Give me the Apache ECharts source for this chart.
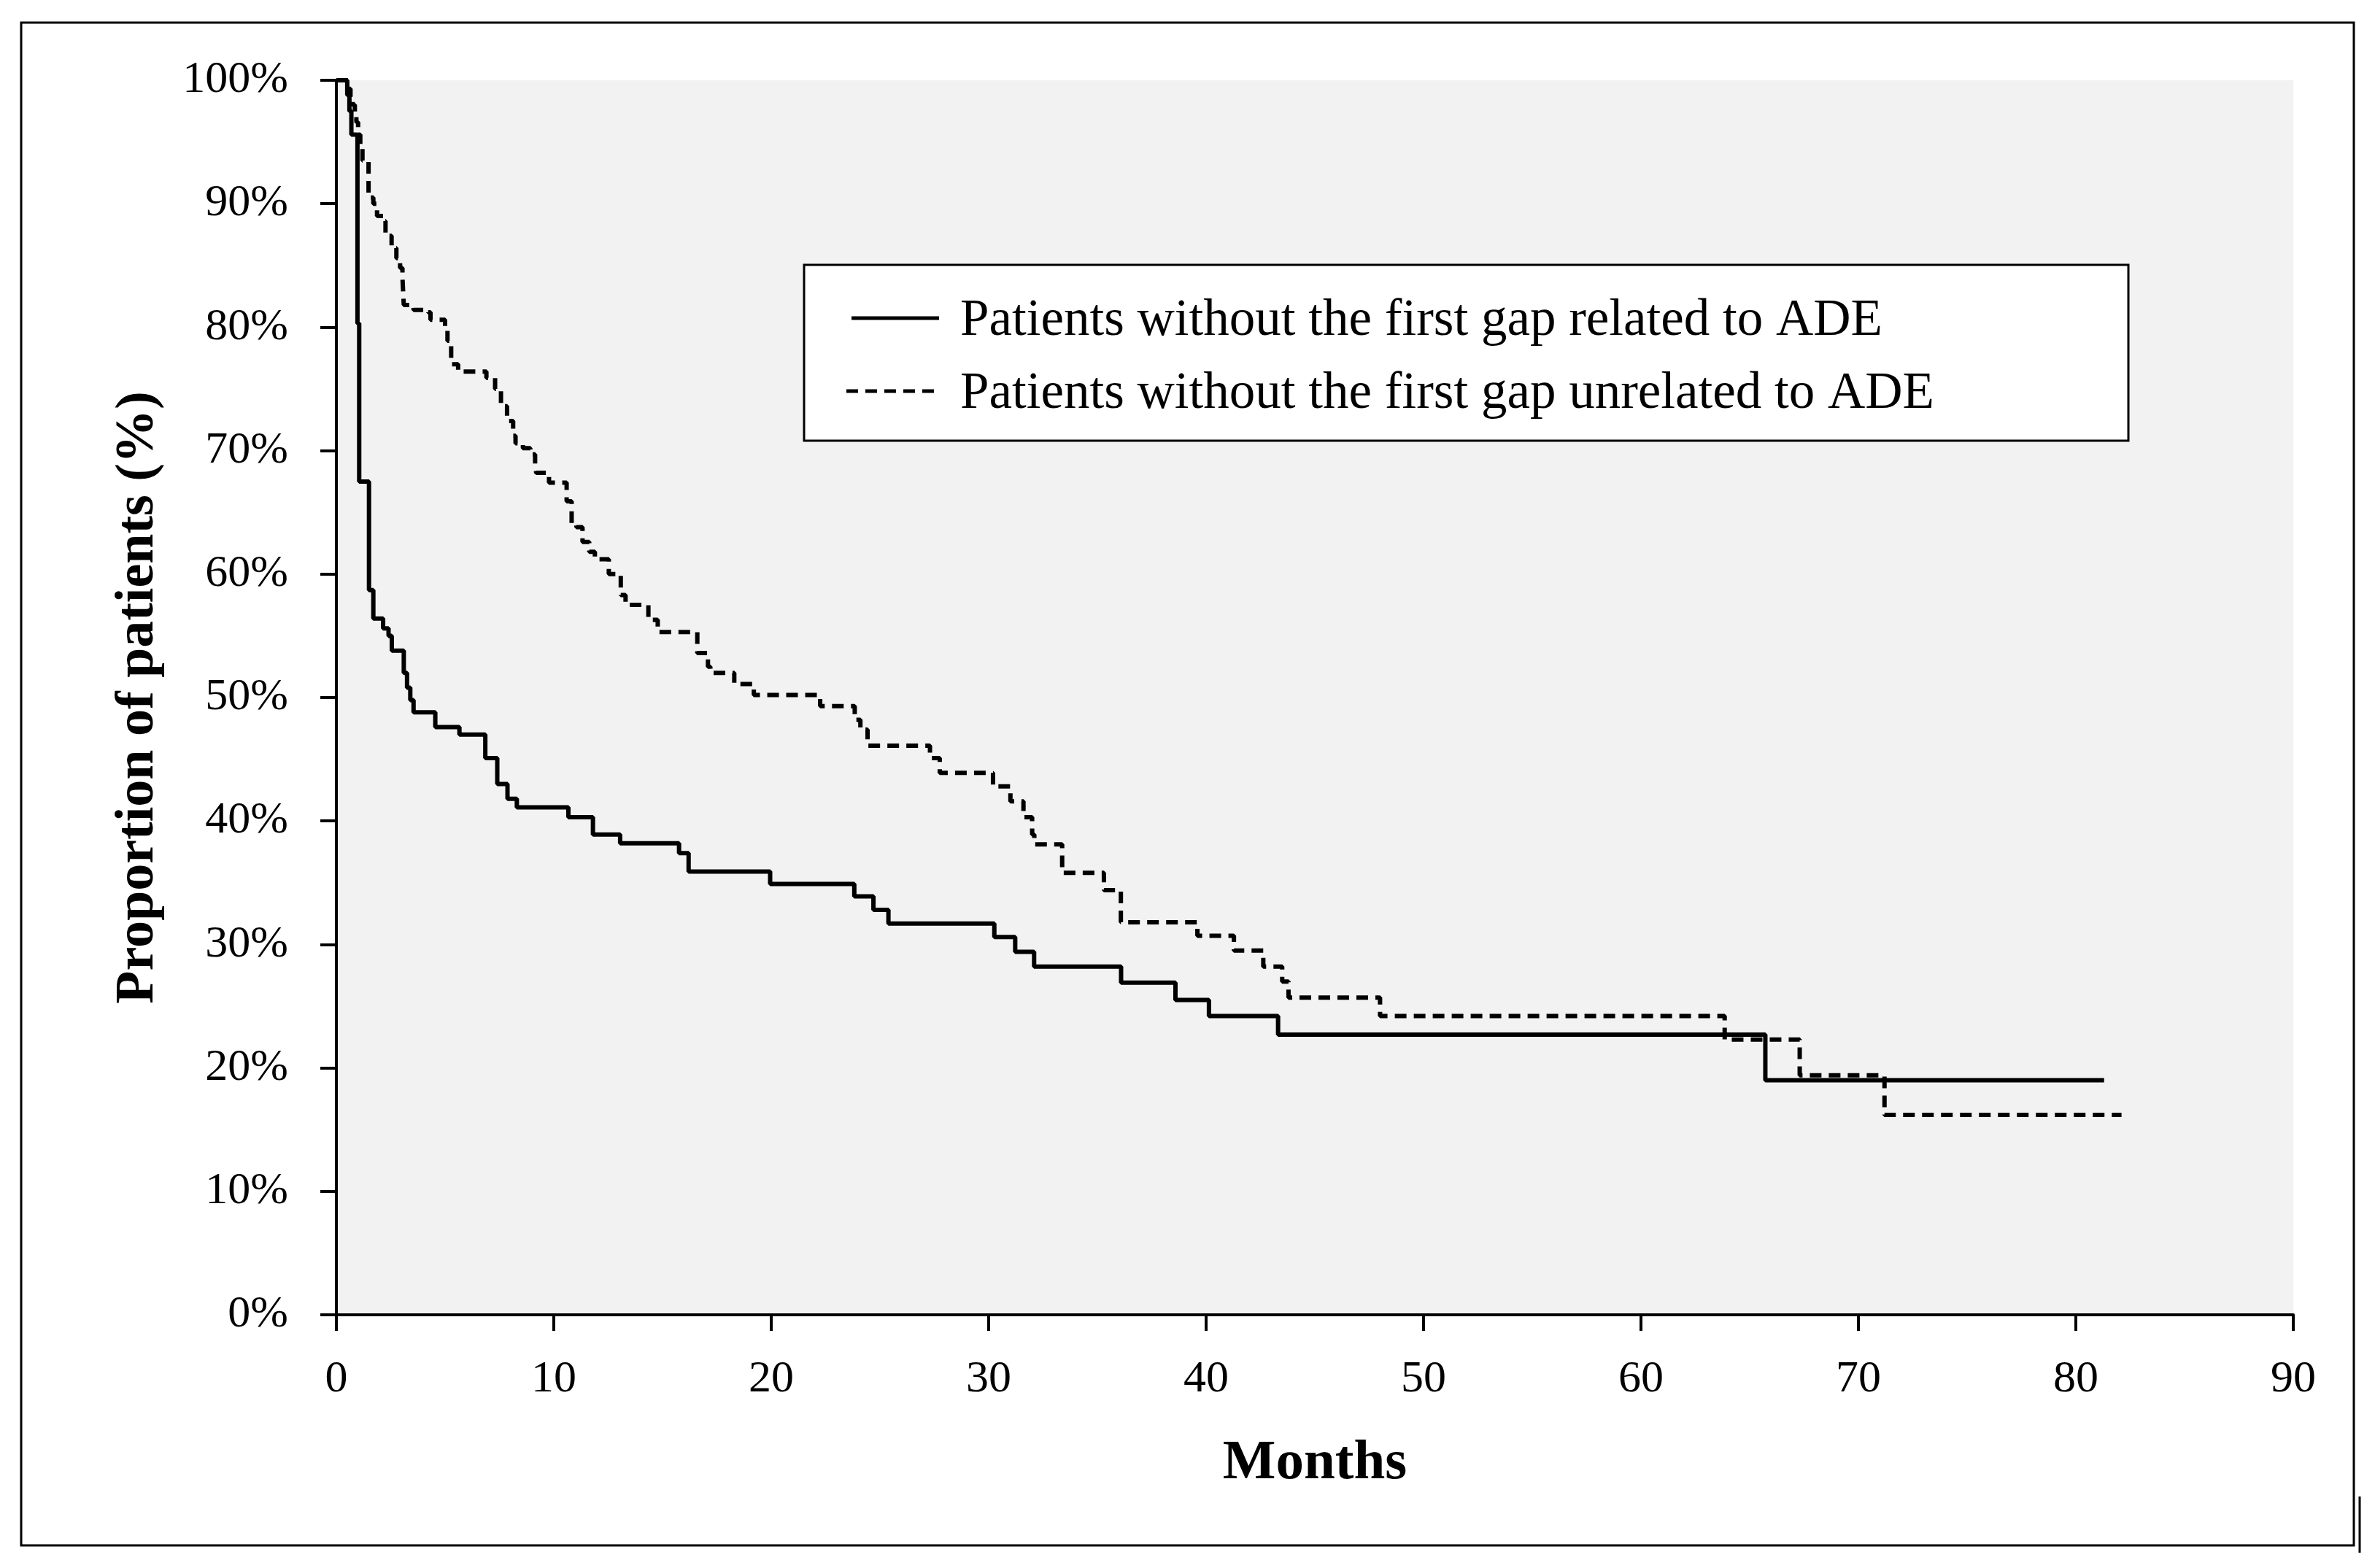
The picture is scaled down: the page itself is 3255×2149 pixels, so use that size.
<!DOCTYPE html>
<html>
<head>
<meta charset="utf-8">
<script src="https://cdn.jsdelivr.net/npm/echarts@6/dist/echarts.min.js"></script>
<style>
html,body{margin:0;padding:0;background:#fff;}
#chart{width:3255px;height:2149px;}
</style>
</head>
<body>
<div id="chart"></div>
<script>
// Series names
const seriesNames = [
  'Patients without the first gap related to ADE',
  'Patients without the first gap unrelated to ADE'
];
// Kaplan-Meier steps: [month, proportion % after the drop at that month]
const relatedSteps = [
  [0,100],[0.5,98.8],[0.6,97.5],[0.69,95.6],[0.97,80.3],[1.05,67.5],[1.5,58.7],
  [1.7,56.4],[2.15,55.6],[2.4,55.0],[2.55,53.8],[3.1,52.0],[3.25,50.8],[3.4,49.8],
  [3.55,48.8],[4.55,47.6],[5.66,47.0],[6.85,45.1],[7.4,43.0],[7.87,41.8],[8.3,41.1],
  [10.67,40.3],[11.8,38.9],[13.05,38.2],[15.76,37.4],[16.2,35.9],[19.95,34.9],
  [23.82,33.9],[24.7,32.8],[25.39,31.7],[30.26,30.6],[31.22,29.4],[32.09,28.2],
  [36.09,26.9],[38.59,25.5],[40.13,24.2],[43.31,22.7],[65.72,19.0],[81.3,19.0]
];
const unrelatedSteps = [
  [0,100],[0.55,99.3],[0.65,98.6],[0.75,98.0],[0.85,97.2],[0.92,96.6],[1.0,95.6],
  [1.1,94.5],[1.2,93.5],[1.48,90.5],[1.7,90.0],[1.87,89.0],[2.15,88.6],[2.26,87.4],
  [2.54,86.4],[2.76,85.6],[2.93,84.8],[3.04,84.0],[3.1,81.8],[3.55,81.4],[4.22,81.2],
  [4.33,80.6],[5.0,80.0],[5.11,78.9],[5.28,77.0],[5.6,76.4],[6.9,75.9],[7.3,75.0],
  [7.57,73.6],[7.85,72.4],[8.13,71.2],[8.24,70.6],[8.58,70.2],[8.92,69.7],[9.14,68.9],
  [9.19,68.2],[9.78,67.4],[10.59,65.9],[10.82,64.1],[11.04,63.8],[11.32,62.6],
  [11.63,61.8],[11.89,61.2],[12.53,60.0],[13.08,58.3],[13.3,57.5],[14.35,56.3],
  [14.78,55.3],[16.6,53.6],[17.09,52.5],[17.2,52.0],[18.3,51.1],[19.2,50.2],
  [22.25,49.3],[23.84,48.2],[24.1,47.4],[24.43,46.1],[27.3,45.1],[27.75,43.9],
  [30.2,42.8],[31.0,41.6],[31.6,40.3],[32.0,38.9],[32.1,38.1],[33.38,35.8],
  [35.3,34.4],[36.08,31.8],[39.6,30.7],[41.28,29.5],[42.63,28.2],[43.5,27.0],
  [43.79,25.7],[48.0,24.2],[63.85,22.3],[67.3,19.4],[71.2,16.2],[82.1,16.2]
];
const xTicks = {min:0, max:90, interval:10};
const yTicks = {min:0, max:100, interval:10};

const FONT = 'Liberation Serif';
const DASH = [16,10];
const chart = echarts.init(document.getElementById('chart'), null, {renderer:'canvas'});
chart.setOption({
  animation:false,
  backgroundColor:'#ffffff',
  grid:{left:461, top:110, right:112, bottom:347, show:true, backgroundColor:'#f2f2f2', borderWidth:0},
  graphic:[
    {type:'rect', z:0, shape:{x:29, y:31, width:3197, height:2087},
     style:{fill:'none', stroke:'#000', lineWidth:3}},
    {type:'line', z:0, shape:{x1:3234, y1:2051, x2:3234, y2:2128},
     style:{stroke:'#000', lineWidth:3}},
    {type:'group', z:10, children:[
      {type:'rect', z:10, shape:{x:1102, y:363, width:1815, height:241},
       style:{fill:'#ffffff', stroke:'#000', lineWidth:3}},
      {type:'line', z:11, shape:{x1:1167, y1:436, x2:1287, y2:436},
       style:{stroke:'#000', lineWidth:5}},
      {type:'line', z:11, shape:{x1:1160, y1:536, x2:1287, y2:536},
       style:{stroke:'#000', lineWidth:5, lineDash:DASH}},
      {type:'text', z:11, x:1316, y:440,
       style:{text:seriesNames[0], font:'71px "Liberation Serif"', fill:'#000', verticalAlign:'middle', align:'left'}},
      {type:'text', z:11, x:1316, y:540,
       style:{text:seriesNames[1], font:'71px "Liberation Serif"', fill:'#000', verticalAlign:'middle', align:'left'}}
    ]}
  ],
  xAxis:{
    type:'value', min:xTicks.min, max:xTicks.max, interval:xTicks.interval,
    name:'Months', nameLocation:'middle', nameGap:166,
    nameTextStyle:{fontFamily:FONT, fontWeight:'bold', fontSize:77, color:'#000'},
    axisLine:{show:true, lineStyle:{color:'#000', width:4}},
    axisTick:{show:true, inside:false, length:22, lineStyle:{color:'#000', width:4}},
    axisLabel:{fontFamily:FONT, fontSize:62, color:'#000', margin:58},
    splitLine:{show:false}
  },
  yAxis:{
    type:'value', min:yTicks.min, max:yTicks.max, interval:yTicks.interval,
    name:'Proportion of patients (%)', nameLocation:'middle', nameGap:234, nameRotate:90,
    nameTextStyle:{fontFamily:FONT, fontWeight:'bold', fontSize:74, color:'#000'},
    axisLine:{show:true, lineStyle:{color:'#000', width:4}},
    axisTick:{show:true, inside:false, length:22, lineStyle:{color:'#000', width:4}},
    axisLabel:{fontFamily:FONT, fontSize:62, color:'#000', margin:66, formatter:'{value}%'},
    splitLine:{show:false}
  },
  series:[
    {name:seriesNames[0], type:'line', step:'end', symbol:'none', data:relatedSteps,
     lineStyle:{color:'#000', width:6, type:'solid'}, itemStyle:{color:'#000'}},
    {name:seriesNames[1], type:'line', step:'end', symbol:'none', data:unrelatedSteps,
     lineStyle:{color:'#000', width:6, type:DASH}, itemStyle:{color:'#000'}}
  ]
});
</script>
</body>
</html>
